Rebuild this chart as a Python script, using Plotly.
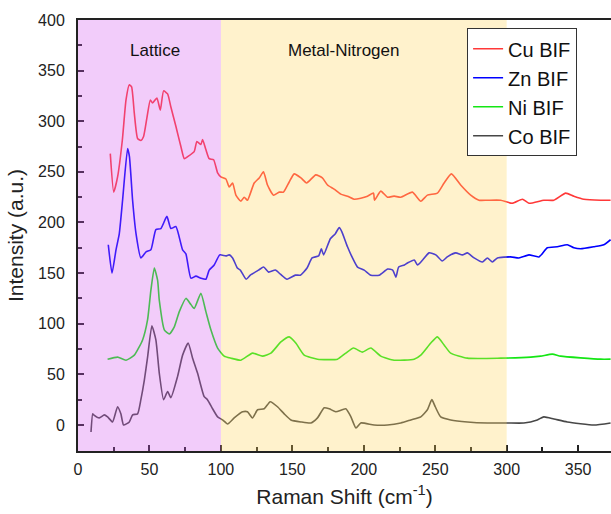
import plotly.graph_objects as go

cu_x = [22.6, 25, 27.7, 31, 33.6, 35.9, 37.5, 39.4, 41.7, 44, 45.9, 48.3, 50.6, 52.2, 55.2, 57.6, 59.9, 62.7, 65, 68.5,
        72, 74.4, 76.7, 81.3, 83.2, 86, 87.2, 89.5, 91.8, 94.9, 97.7, 100, 103.5, 105.8, 108.2, 110.5, 114, 116.3, 118.6,
        123.3, 126.8, 129.8, 132.6, 136.8, 140.8, 143.8, 147.8, 151.3, 156, 160, 166.4, 171, 174.6, 179.2, 183.9, 188.6,
        193.2, 197.9, 202.6, 206.8, 207.5, 211.9, 216.6, 221.2, 225.9, 234, 239.9, 244.5, 251.5, 256.2, 261.3, 267.8,
        274.8, 280.6, 286.4, 295.8, 303.9, 311, 315.6, 326, 333, 341.3, 347, 354, 365.7, 372.7]
cu_y = [268, 230, 245, 281, 321, 336, 334, 308, 283, 281, 285, 304, 321, 318, 323, 311, 330, 327, 314, 295,
        275, 263, 265, 270, 280, 277, 282, 272, 263, 262, 249, 245, 243, 235, 239, 227, 221, 225, 222,
        239, 244, 250, 237, 227, 230, 230, 240, 248, 244, 239, 247, 244, 237, 233, 228, 226,
        223, 224, 226, 229, 222, 231, 225, 226, 225, 230, 221, 227, 229, 239, 248, 237,
        227, 222, 222, 222, 219, 223, 219, 222, 222, 229, 226, 223, 222, 222]

zn_x = [21.2, 23.8, 26.6, 28.9, 31.2, 34.7, 36, 38.2, 40.6, 44, 47.6, 51, 54.5, 58, 62.2, 65, 68.5, 73.2, 75.5, 79,
        82.5, 86, 89.5, 91.8, 95.3, 99.2, 103.5, 105.8, 108.2, 111.5, 113.6, 117.7, 120.6, 126.4, 129.9, 133.4, 138.1,
        141.6, 146.3, 152.1, 155.6, 160.3, 163.8, 168.4, 170.3, 171.9, 176.6, 180.1, 182.8, 184.6, 188.6, 192.1, 195.6,
        200.3, 204.9, 210.8, 216.7, 220.2, 222.5, 224.4, 228.4, 230.6, 235.3, 237.6, 241.2, 245.7, 250.4, 254.9, 258.4,
        264.3, 269, 272.5, 277.2, 283, 286.5, 290, 293.5, 302.8, 308.6, 315.6, 322.6, 328.4, 335.4, 342.4, 347, 351.7,
        361, 368, 372.7]
zn_y = [178, 150, 173, 189, 222, 273, 265, 222, 189, 165, 171, 173, 193, 194, 206, 194, 196, 173, 169, 145,
        147, 145, 144, 153, 158, 168, 167, 168, 165, 155, 153, 144, 148, 153, 156, 151, 153,
        149, 144, 148, 148, 155, 165, 167, 174, 168, 184, 189, 195, 191, 176, 165, 156,
        153, 148, 148, 154, 153, 146, 156, 158, 160, 163, 158, 163, 170, 168, 162, 166,
        170, 168, 170, 165, 161, 165, 161, 165, 166, 165, 168, 166, 175, 176, 178, 175, 174,
        176, 178, 183]

ni_x = [20.7, 27.7, 33.6, 39.4, 45.2, 48.7, 51, 53.4, 55.7, 56.9, 60.4, 63.9, 67.4, 70.9, 75.5, 79, 81.3, 86, 89.5,
        93, 97.7, 102.3, 107, 114, 122.1, 129.1, 135, 142, 147.8, 152.4, 158.3, 167.6, 181.6, 187.4, 192.8, 199,
        204.9, 211.9, 221.2, 235.2, 239.9, 246.9, 251.5, 256.2, 260.8, 272.5, 295.8, 316.8, 323.8, 332, 337.8,
        365.7, 372.7]
ni_y = [65, 67, 64, 69, 84, 104, 133, 155, 143, 123, 94, 90, 97, 112, 125, 119, 115, 130, 112,
        94, 76, 68, 66, 64, 71, 68, 71, 82, 87, 81, 69, 65, 65, 71, 76, 72,
        76, 68, 64, 65, 69, 81, 87, 79, 71, 66, 66, 67, 68, 70, 68,
        65, 65]

co_x = [9.1, 10.3, 11, 14.9, 18.4, 20.7, 24.2, 27.7, 30, 31.9, 35.9, 38.2, 41.7, 44, 46.4, 48.7, 51.7, 54.5, 56.9,
        59.9, 62.7, 65, 69.7, 73.2, 77.1, 80.2, 83.7, 88.3, 90.6, 94.2, 97.7, 101.2, 104.7, 109.3, 115.2, 118.6,
        122.1, 125.7, 130.3, 134.5, 139.6, 144.3, 149, 156, 163, 167.6, 172.3, 175.8, 180.4, 187.4, 191, 194.5,
        197.9, 207.2, 216.6, 225.9, 232.9, 239.9, 244.5, 247.6, 250, 253.8, 260.8, 272.5, 286.5, 300.5, 312,
        321.4, 326, 333, 342.4, 361, 372.7]
co_y = [-7, 11, 10, 7, 10, 8, 3, 18, 11, 0, 3, 10, 11, 25, 44, 67, 98, 84, 51,
        25, 33, 27, 48, 69, 81, 66, 51, 28, 25, 16, 8, 5, 1, 7, 13, 13,
        7, 15, 16, 23, 18, 11, 5, 3, 2, 7, 17, 16, 13, 16, 8, -3,
        2, 0, 0, 2, 5, 8, 15, 25, 18, 8, 5, 3, 2, 2, 2,
        5, 8, 6, 3, 0, 2]

series = [
    ("Cu BIF", cu_x, cu_y, "#FF3838"),
    ("Zn BIF", zn_x, zn_y, "#0000FF"),
    ("Ni BIF", ni_x, ni_y, "#14E614"),
    ("Co BIF", co_x, co_y, "#474747"),
]

fig = go.Figure()
for name, xs, ys, c in series:
    fig.add_trace(go.Scatter(x=xs, y=ys, mode="lines", name=name,
                             line=dict(color=c, width=1.6, shape="spline", smoothing=0.5)))

fig.add_shape(type="rect", xref="x", yref="paper", x0=0, x1=100, y0=0, y1=1,
              fillcolor="rgb(212,85,238)", opacity=0.3, line=dict(width=0), layer="above")
fig.add_shape(type="rect", xref="x", yref="paper", x0=100, x1=300, y0=0, y1=1,
              fillcolor="rgb(255,212,85)", opacity=0.3, line=dict(width=0), layer="above")

fig.add_annotation(x=54, y=370, text="Lattice", showarrow=False,
                   font=dict(family="Liberation Sans, Arial", size=17, color="#111"))
fig.add_annotation(x=186, y=370, text="Metal-Nitrogen", showarrow=False,
                   font=dict(family="Liberation Sans, Arial", size=17, color="#111"))

fig.update_layout(
    width=611, height=514,
    margin=dict(l=78, r=0, t=20, b=63),
    plot_bgcolor="white", paper_bgcolor="white",
    font=dict(family="Liberation Sans, Arial", color="#222"),
    showlegend=True,
    legend=dict(x=0.73, y=0.981, xanchor="left", yanchor="top",
                bgcolor="white", bordercolor="#333", borderwidth=1,
                font=dict(size=20, color="#111"), tracegroupgap=0,
                itemwidth=30),
)
fig.update_xaxes(range=[0, 373], tickvals=[0, 50, 100, 150, 200, 250, 300, 350],
                 ticks="inside", ticklen=6, tickwidth=1.5, tickcolor="#222",
                 minor=dict(dtick=25, tick0=0, ticks="inside", ticklen=4, tickcolor="#222"),
                 showline=True, linecolor="#222", linewidth=2, mirror=True,
                 showgrid=False, zeroline=False, tickfont=dict(size=16), automargin=False,
                 ticklabelstandoff=3,
                 title=dict(text="Raman Shift (cm<sup>-1</sup>)", font=dict(size=21), standoff=12))
fig.update_yaxes(range=[-25.7, 400], tickvals=[0, 50, 100, 150, 200, 250, 300, 350, 400],
                 ticks="inside", ticklen=6, tickwidth=1.5, tickcolor="#222",
                 minor=dict(dtick=25, tick0=0, ticks="inside", ticklen=4, tickcolor="#222"),
                 showline=True, linecolor="#222", linewidth=2,
                 showgrid=False, zeroline=False, tickfont=dict(size=16), automargin=False,
                 ticklabelstandoff=8,
                 title=dict(text="Intensity (a.u.)", font=dict(size=21), standoff=9))

fig.write_html("out.html", config={"displayModeBar": False},
               post_script="document.body.style.margin='0';document.body.style.overflow='hidden';")
